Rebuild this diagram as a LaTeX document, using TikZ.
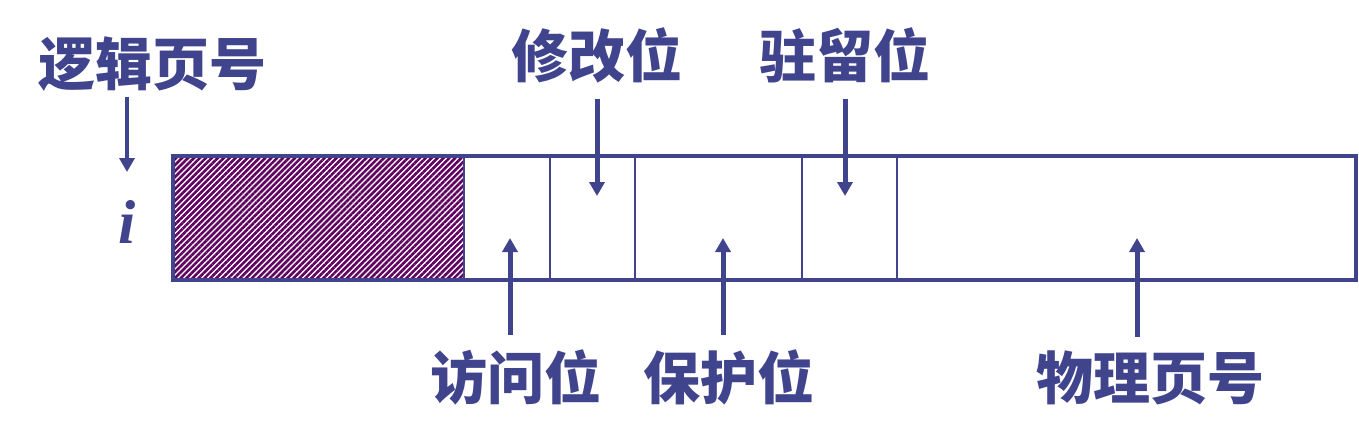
\documentclass[tikz,border=0pt]{standalone}
\usepackage{fontspec}
\usetikzlibrary{arrows.meta,patterns.meta}
\newfontfamily\cjk{Noto Sans CJK SC}
\newfontfamily\idxfont{Liberation Serif}
\definecolor{entryblue}{RGB}{64,68,140}
\definecolor{hatchpurple}{RGB}{96,0,96}

\begin{document}
\begin{tikzpicture}[x=1pt, y=-1pt,
    lbl/.style={inner sep=0pt, text=entryblue, font=\cjk\bfseries\fontsize{57}{60}\selectfont},
    pointer/.style={entryblue, line width=5pt, -{Triangle[width=15pt,length=14pt]}},
    divider/.style={draw=entryblue, line width=2pt}]
    \useasboundingbox (0,0) rectangle (1359,447);

    % page table entry i
    \fill[pattern={Lines[angle=45,distance=4.2pt,line width=2.6pt]}, pattern color=hatchpurple] (173,156) rectangle (464,280);
    \foreach \xs in {464,550,635,802,897}
      \draw[divider] (\xs,156) -- (\xs,280);
    \draw[entryblue, line width=4.5pt] (173,156) rectangle (1356,280);
    \node[inner sep=0pt, text=entryblue, font=\idxfont\bfseries\itshape\fontsize{62}{64}\selectfont] (idx) at (127,222) {i};

    % labels above the entry
    \node[lbl] (logpage) at (152,64) {逻辑页号};
    \node[lbl] (modbit) at (597,55) {修改位};
    \node[lbl] (resbit) at (845,55) {驻留位};
    % labels below the entry
    \node[lbl] (accbit) at (516,377) {访问位};
    \node[lbl] (probit) at (729,377) {保护位};
    \node[lbl] (physpage) at (1150,378) {物理页号};

    % arrow tips inside the entry
    \coordinate (logtip) at (127,172);
    \coordinate (modtip) at (597,196);
    \coordinate (restip) at (845,196);
    \coordinate (acctip) at (510,238);
    \coordinate (protip) at (723,238);
    \coordinate (phystip) at (1137,238);

    \draw[pointer, line width=4pt, shorten <=5pt] (logpage.south -| logtip) -- (logtip);
    \draw[pointer, shorten <=16pt] (modbit.south -| modtip) -- (modtip);
    \draw[pointer, shorten <=16pt] (resbit.south -| restip) -- (restip);
    \draw[pointer, shorten <=14pt] (accbit.north -| acctip) -- (acctip);
    \draw[pointer, shorten <=14pt] (probit.north -| protip) -- (protip);
    \draw[pointer, shorten <=14pt] (physpage.north -| phystip) -- (phystip);
\end{tikzpicture}
\end{document}
